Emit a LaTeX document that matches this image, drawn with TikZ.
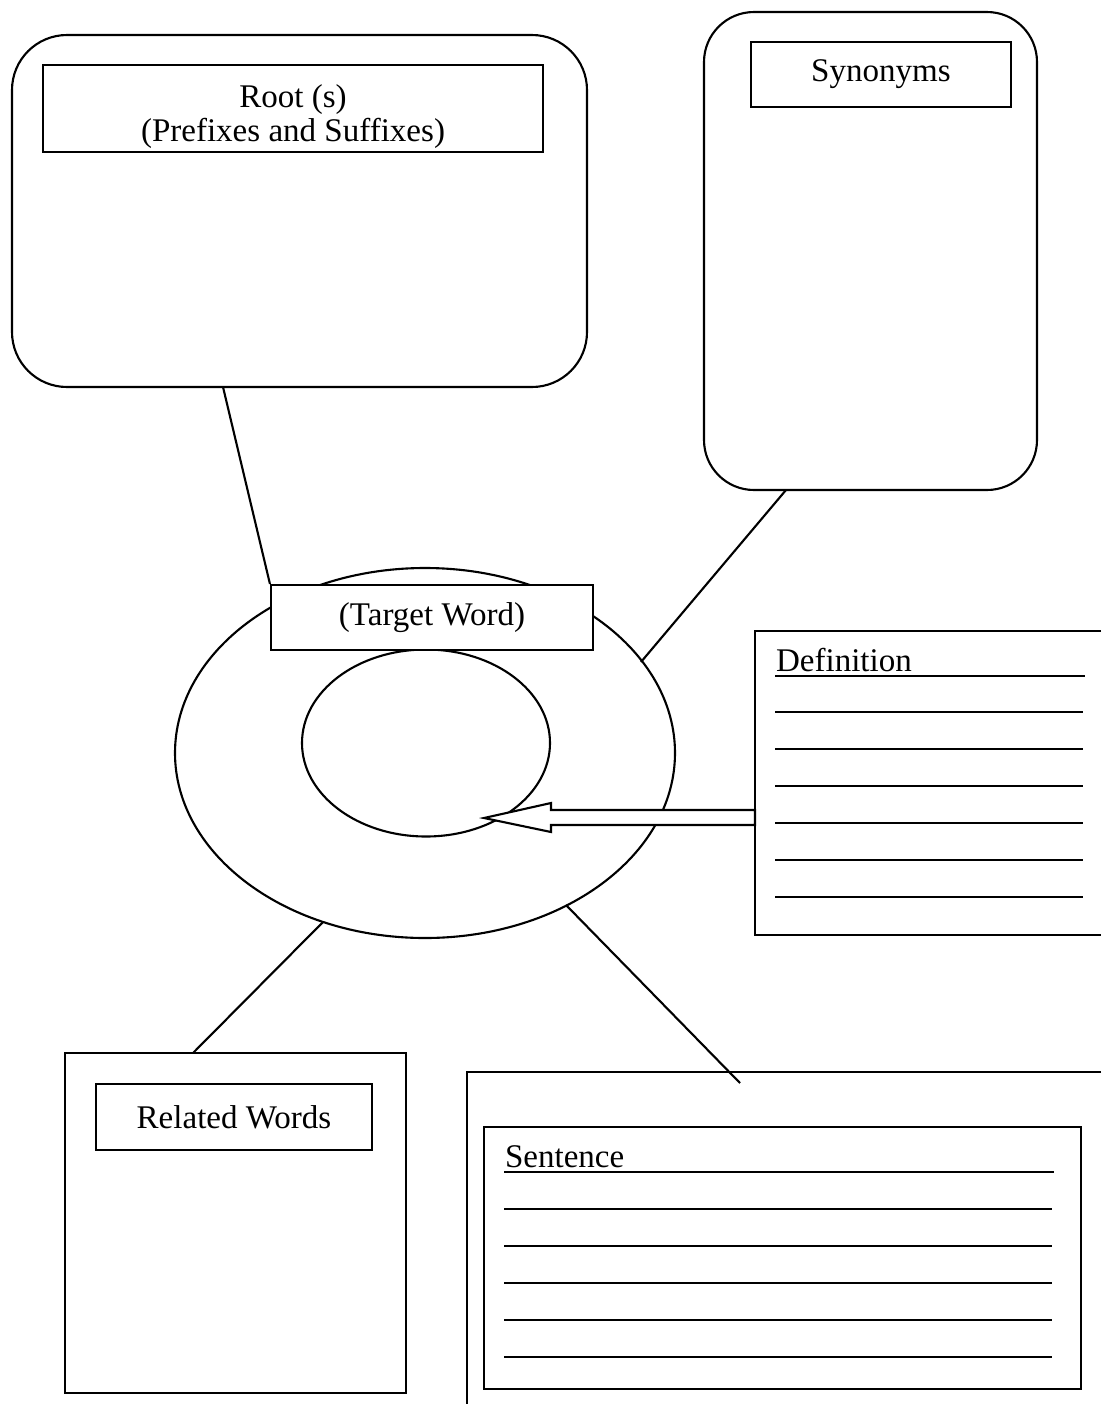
\documentclass[tikz,border=0pt]{standalone}
\usepackage{fontspec}
\setmainfont{Liberation Serif}
\usetikzlibrary{shapes.geometric}

\begin{document}
\begin{tikzpicture}[x=0.1mm, y=-0.1mm, line width=0.6pt,
	font=\fontsize{9.4}{9.8}\selectfont,
	bigbox/.style={draw, rectangle, rounded corners=5.5mm, inner sep=0pt},
	plainbox/.style={draw, rectangle, inner sep=0pt},
	headbox/.style={draw, rectangle, fill=white, inner sep=0pt, align=center},
	ring/.style={draw, ellipse, inner sep=0pt}]
	\useasboundingbox (0,0) rectangle (1101,1404);

	% top boxes
	\node [bigbox, minimum width=57.5mm, minimum height=35.2mm] (root) at (299.5,211) {};
	\node [headbox, minimum width=50mm, minimum height=8.7mm] (rootlbl) at (293,108.5) {};
	\node [align=center, inner sep=0pt] (roottxt) at ([yshift=-0.8mm]rootlbl.center) {Root (s)\\(Prefixes and Suffixes)};
	\node [bigbox, rounded corners=5mm, minimum width=33.3mm, minimum height=47.8mm] (syn) at (870.5,251) {};
	\node [headbox, minimum width=26mm, minimum height=6.5mm] (synlbl) at (881,74.5) {Synonyms};

	% target word
	\node [ring, minimum width=50mm, minimum height=37mm] (outer) at (425,753) {};
	\node [ring, minimum width=24.8mm, minimum height=18.7mm] (inner) at (426,743) {};
	\node [headbox, minimum width=32.2mm, minimum height=6.5mm] (target) at (432,617.5) {(Target Word)};

	\coordinate (rootfoot) at (223,387);
	\coordinate (synfoot) at (786,490);
	\coordinate (synend) at (641,662);
	\draw (rootfoot) -- (target.north west);
	\draw (synfoot) -- (synend);

	% definition
	\coordinate (defnw) at (755,631);
	\coordinate (defsw) at (755,935);
	\draw (1101,631) -- (defnw) -- (defsw) -- (1101,935);
	\node [anchor=base west, inner sep=0pt] (defword) at (775,671) {Definition};
	\draw (775,676) -- (1085,676);
	\foreach \y in {712,749,...,897}
		\draw (775,\y) -- (1083,\y);
	\coordinate (deftip) at (484,818);
	\draw [fill=white] (deftip) -- (551,803) -- (551,810) -- (755,810) -- (755,825) -- (551,825) -- (551,832) -- cycle;

	% related words
	\node [plainbox, minimum width=34.1mm, minimum height=34mm] (rel) at (235.5,1223) {};
	\node [headbox, minimum width=27.6mm, minimum height=6.6mm] (rellbl) at (234,1117) {Related Words};
	\coordinate (relfrom) at (323,922);
	\coordinate (reltop) at (193,1053);
	\draw (relfrom) -- (reltop);

	% sentence
	\coordinate (sentnw) at (467,1072);
	\draw (1101,1072) -- (sentnw) -- (467,1404);
	\node [plainbox, minimum width=59.7mm, minimum height=26.2mm] (sent) at (782.5,1258) {};
	\node [anchor=base west, inner sep=0pt] (sentword) at (504,1167) {Sentence};
	\draw (504,1172) -- (1054,1172);
	\foreach \y in {1209,1246,...,1357}
		\draw (504,\y) -- (1052,\y);
	\coordinate (sentfrom) at (566,905);
	\coordinate (sentend) at (740,1083);
	\draw (sentfrom) -- (sentend);
\end{tikzpicture}
\end{document}
